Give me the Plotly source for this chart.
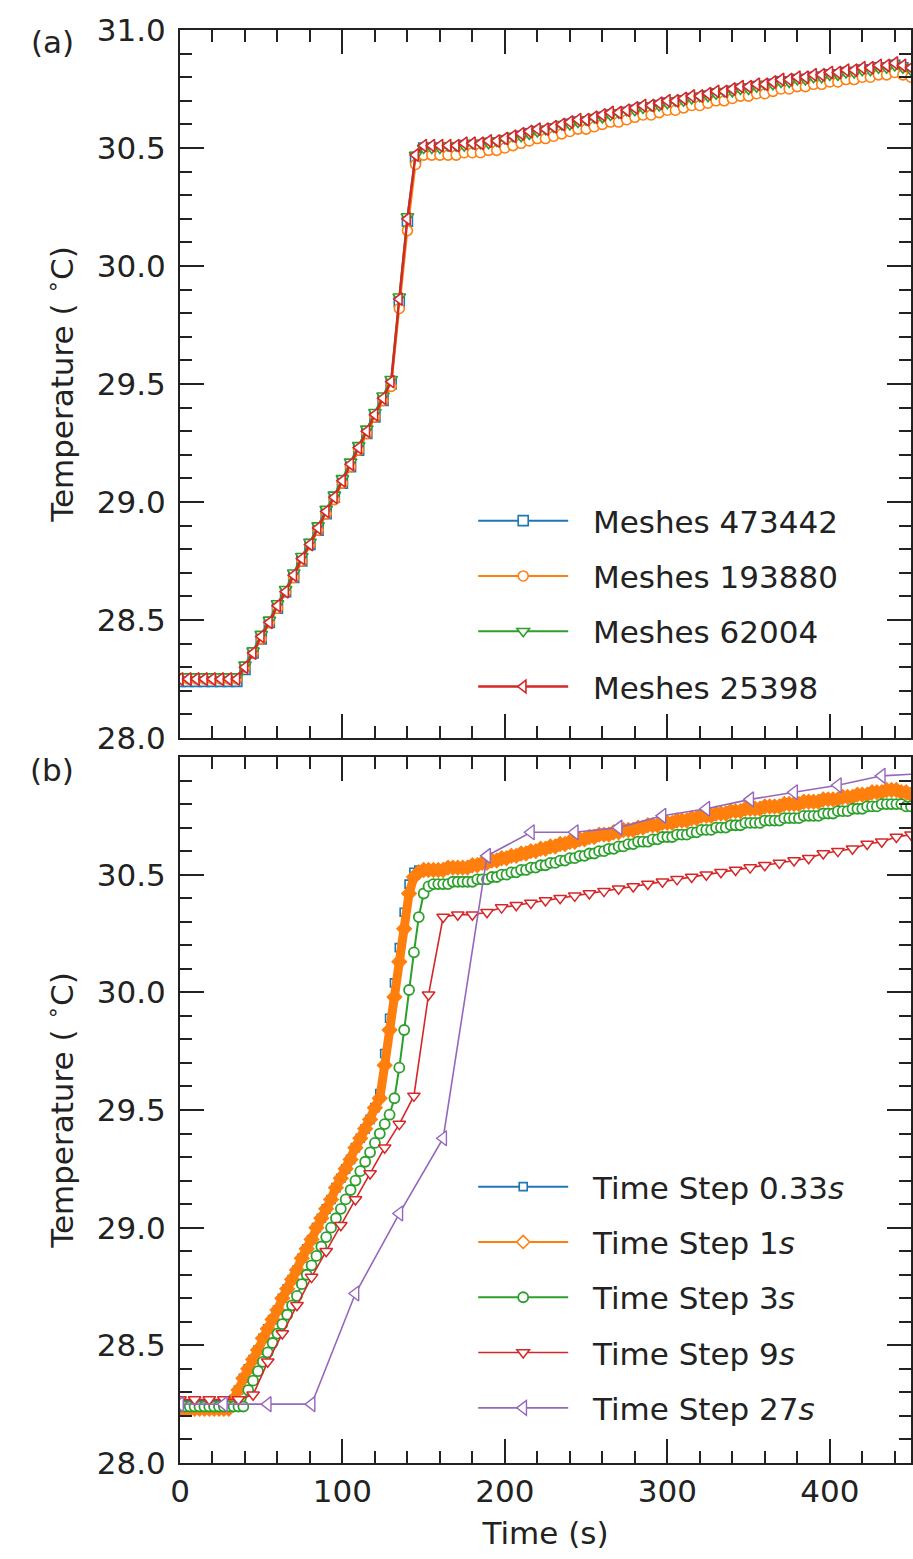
import plotly.graph_objects as go

# ---------------- data ----------------
top_t = list(range(0, 451, 5))
mesh_labels = ["Meshes 473442", "Meshes 193880", "Meshes 62004", "Meshes 25398"]

mesh_473442 = [28.24, 28.24, 28.24, 28.24, 28.24, 28.24, 28.24, 28.24,
    28.29, 28.36, 28.42, 28.49, 28.55, 28.62, 28.68, 28.75, 28.82, 28.88,
    28.95, 29.02, 29.08, 29.15, 29.22, 29.29, 29.36, 29.43, 29.50, 29.85,
    30.19, 30.46, 30.50, 30.50, 30.50, 30.50, 30.50, 30.51, 30.51, 30.51,
    30.52, 30.52, 30.53, 30.54, 30.55, 30.56, 30.57, 30.57, 30.58, 30.59,
    30.60, 30.61, 30.61, 30.62, 30.63, 30.64, 30.64, 30.65, 30.66, 30.67,
    30.67, 30.68, 30.69, 30.69, 30.70, 30.71, 30.71, 30.72, 30.73, 30.73,
    30.74, 30.75, 30.75, 30.76, 30.76, 30.77, 30.78, 30.78, 30.79, 30.79,
    30.80, 30.80, 30.81, 30.81, 30.82, 30.82, 30.83, 30.83, 30.84, 30.84,
    30.85, 30.84, 30.83]
mesh_193880 = [28.25, 28.25, 28.25, 28.25, 28.25, 28.25, 28.25, 28.25,
    28.30, 28.36, 28.42, 28.49, 28.55, 28.62, 28.68, 28.75, 28.82, 28.88,
    28.95, 29.01, 29.08, 29.15, 29.22, 29.29, 29.36, 29.43, 29.49, 29.82,
    30.15, 30.43, 30.47, 30.47, 30.47, 30.47, 30.47, 30.48, 30.48, 30.48,
    30.49, 30.49, 30.50, 30.51, 30.52, 30.53, 30.54, 30.54, 30.55, 30.56,
    30.57, 30.58, 30.58, 30.59, 30.60, 30.61, 30.61, 30.62, 30.63, 30.64,
    30.64, 30.65, 30.66, 30.66, 30.67, 30.68, 30.68, 30.69, 30.70, 30.70,
    30.71, 30.72, 30.72, 30.73, 30.73, 30.74, 30.75, 30.75, 30.76, 30.76,
    30.77, 30.77, 30.78, 30.78, 30.79, 30.79, 30.80, 30.80, 30.81, 30.81,
    30.82, 30.81, 30.80]
mesh_62004 = [28.26, 28.26, 28.26, 28.26, 28.26, 28.26, 28.26, 28.26,
    28.31, 28.37, 28.44, 28.50, 28.57, 28.63, 28.70, 28.77, 28.83, 28.90,
    28.97, 29.03, 29.10, 29.17, 29.24, 29.31, 29.38, 29.45, 29.52, 29.87,
    30.21, 30.47, 30.50, 30.50, 30.50, 30.51, 30.51, 30.51, 30.52, 30.52,
    30.52, 30.53, 30.54, 30.55, 30.55, 30.56, 30.57, 30.58, 30.59, 30.60,
    30.60, 30.61, 30.62, 30.63, 30.63, 30.64, 30.65, 30.66, 30.66, 30.67,
    30.68, 30.68, 30.69, 30.70, 30.70, 30.71, 30.72, 30.72, 30.73, 30.74,
    30.74, 30.75, 30.75, 30.76, 30.77, 30.77, 30.78, 30.78, 30.79, 30.79,
    30.80, 30.80, 30.81, 30.81, 30.82, 30.82, 30.83, 30.83, 30.84, 30.84,
    30.85, 30.84, 30.83]
mesh_25398 = [28.25, 28.25, 28.25, 28.25, 28.25, 28.25, 28.25, 28.25,
    28.30, 28.36, 28.43, 28.49, 28.56, 28.62, 28.69, 28.76, 28.82, 28.89,
    28.96, 29.02, 29.09, 29.16, 29.23, 29.30, 29.37, 29.44, 29.51, 29.86,
    30.20, 30.47, 30.51, 30.51, 30.51, 30.51, 30.51, 30.52, 30.52, 30.52,
    30.53, 30.53, 30.54, 30.55, 30.56, 30.57, 30.58, 30.58, 30.59, 30.60,
    30.61, 30.62, 30.62, 30.63, 30.64, 30.65, 30.65, 30.66, 30.67, 30.68,
    30.68, 30.69, 30.70, 30.70, 30.71, 30.72, 30.72, 30.73, 30.74, 30.74,
    30.75, 30.76, 30.76, 30.77, 30.77, 30.78, 30.79, 30.79, 30.80, 30.80,
    30.81, 30.81, 30.82, 30.82, 30.83, 30.83, 30.84, 30.84, 30.85, 30.85,
    30.86, 30.85, 30.84]

t3 = list(range(0, 451, 3))
t9 = list(range(0, 451, 9))
t27 = list(range(0, 460, 27))
step_labels = ["Time Step 0.33<i>s</i>", "Time Step 1<i>s</i>", "Time Step 3<i>s</i>",
               "Time Step 9<i>s</i>", "Time Step 27<i>s</i>"]

step_033 = [28.25, 28.25, 28.25, 28.25, 28.25, 28.25, 28.25, 28.25, 28.25, 28.25, 28.25,
    28.27, 28.31, 28.36, 28.40, 28.44, 28.48, 28.53, 28.57, 28.61, 28.65,
    28.70, 28.74, 28.78, 28.82, 28.87, 28.91, 28.95, 29.00, 29.04, 29.08,
    29.12, 29.17, 29.21, 29.25, 29.29, 29.34, 29.38, 29.42, 29.46, 29.51,
    29.57,
    29.74, 29.89, 30.04, 30.19, 30.34, 30.46, 30.51, 30.52,
    30.52, 30.52, 30.52, 30.52, 30.52, 30.53, 30.53, 30.53, 30.53, 30.53,
    30.54, 30.54, 30.55, 30.55, 30.56, 30.56, 30.57, 30.57, 30.58, 30.58,
    30.59, 30.59, 30.60, 30.60, 30.61, 30.61, 30.62, 30.62, 30.63, 30.63,
    30.64, 30.64, 30.65, 30.65, 30.66, 30.66, 30.67, 30.67, 30.67, 30.68,
    30.68, 30.69, 30.69, 30.69, 30.70, 30.70, 30.71, 30.71, 30.71, 30.72,
    30.72, 30.72, 30.73, 30.73, 30.73, 30.74, 30.74, 30.75, 30.75, 30.75,
    30.76, 30.76, 30.76, 30.77, 30.77, 30.77, 30.78, 30.78, 30.78, 30.78,
    30.79, 30.79, 30.79, 30.79, 30.80, 30.80, 30.80, 30.80, 30.81, 30.81,
    30.81, 30.81, 30.82, 30.82, 30.82, 30.82, 30.83, 30.83, 30.83, 30.84,
    30.84, 30.84, 30.85, 30.85, 30.85, 30.86, 30.86, 30.86, 30.85, 30.85,
    30.84]
step_1 = [28.23, 28.23, 28.23, 28.23, 28.23, 28.23, 28.23, 28.23, 28.23, 28.23, 28.23,
    28.27, 28.31, 28.36, 28.40, 28.44, 28.48, 28.53, 28.57, 28.61, 28.65,
    28.70, 28.74, 28.78, 28.82, 28.87, 28.91, 28.95, 29.00, 29.04, 29.08,
    29.12, 29.17, 29.21, 29.25, 29.29, 29.34, 29.38, 29.42, 29.46, 29.51,
    29.55,
    29.69, 29.84, 29.98, 30.13, 30.27, 30.42, 30.49, 30.51,
    30.52, 30.52, 30.52, 30.52, 30.52, 30.53, 30.53, 30.53, 30.53, 30.53,
    30.54, 30.54, 30.55, 30.55, 30.56, 30.56, 30.57, 30.57, 30.58, 30.58,
    30.59, 30.59, 30.60, 30.60, 30.61, 30.61, 30.62, 30.62, 30.63, 30.63,
    30.64, 30.64, 30.65, 30.65, 30.66, 30.66, 30.67, 30.67, 30.67, 30.68,
    30.68, 30.69, 30.69, 30.69, 30.70, 30.70, 30.71, 30.71, 30.71, 30.72,
    30.72, 30.72, 30.73, 30.73, 30.73, 30.74, 30.74, 30.75, 30.75, 30.75,
    30.76, 30.76, 30.76, 30.77, 30.77, 30.77, 30.78, 30.78, 30.78, 30.78,
    30.79, 30.79, 30.79, 30.79, 30.80, 30.80, 30.80, 30.80, 30.81, 30.81,
    30.81, 30.81, 30.82, 30.82, 30.82, 30.82, 30.83, 30.83, 30.83, 30.84,
    30.84, 30.84, 30.85, 30.85, 30.85, 30.86, 30.86, 30.86, 30.85, 30.85,
    30.84]
step_3 = [28.24, 28.24, 28.24, 28.24, 28.24, 28.24, 28.24, 28.24, 28.24, 28.24, 28.24, 28.24, 28.24, 28.24,
    28.31, 28.35, 28.39, 28.43, 28.47, 28.51, 28.55, 28.59, 28.63, 28.67,
    28.71, 28.76, 28.80, 28.84, 28.88, 28.92, 28.96, 29.00, 29.04, 29.08,
    29.12, 29.16, 29.20, 29.24, 29.28, 29.32, 29.36, 29.40, 29.44,
    29.48, 29.55, 29.68, 29.84, 30.01, 30.17, 30.32, 30.42,
    30.45, 30.46, 30.46, 30.46, 30.46, 30.47, 30.47, 30.47, 30.47, 30.47, 30.48, 30.48, 30.48, 30.49, 30.49, 30.50,
    30.50, 30.51, 30.51, 30.52, 30.52, 30.53, 30.53, 30.54, 30.54, 30.55, 30.55, 30.56, 30.56, 30.57, 30.57, 30.58, 30.58,
    30.59, 30.59, 30.60, 30.60, 30.61, 30.61, 30.62, 30.62, 30.63, 30.63, 30.64, 30.64, 30.64, 30.65, 30.65, 30.66, 30.66,
    30.66, 30.67, 30.67, 30.67, 30.68, 30.68, 30.69, 30.69, 30.69, 30.70, 30.70, 30.70, 30.71, 30.71, 30.71, 30.72, 30.72,
    30.72, 30.72, 30.73, 30.73, 30.73, 30.73, 30.74, 30.74, 30.74, 30.74,
    30.75, 30.75, 30.75, 30.75, 30.76, 30.76, 30.76, 30.77, 30.77, 30.77,
    30.78, 30.78, 30.78, 30.79, 30.79, 30.79, 30.80, 30.80, 30.80, 30.80,
    30.80, 30.79, 30.79]
step_9 = [28.27, 28.27, 28.27, 28.27, 28.27, 28.29, 28.43, 28.55, 28.67, 28.79,
    28.90, 29.01, 29.12, 29.23, 29.34, 29.44, 29.56, 29.99, 30.32, 30.33,
    30.33, 30.34, 30.36, 30.37, 30.38, 30.39, 30.40, 30.41, 30.42, 30.43,
    30.44, 30.45, 30.46, 30.47, 30.48, 30.49, 30.50, 30.51, 30.52, 30.53,
    30.54, 30.55, 30.56, 30.57, 30.59, 30.60, 30.61, 30.63, 30.64, 30.66,
    30.67]
step_27 = [28.25, 28.25, 28.25, 28.25, 28.72, 29.06, 29.38, 30.58, 30.68, 30.68,
    30.70, 30.75, 30.78, 30.82, 30.85, 30.88, 30.92, 30.93]

y_ticks_top = [28.0, 28.5, 29.0, 29.5, 30.0, 30.5, 31.0]
y_ticks_bot = [28.0, 28.5, 29.0, 29.5, 30.0, 30.5]
x_ticks = [0, 100, 200, 300, 400]

# ---------------- style ----------------
C_BLUE, C_ORANGE, C_GREEN, C_RED, C_PURPLE = "#1f77b4", "#ff7f0e", "#2ca02c", "#d62728", "#9467bd"
FONT = "DejaVu Sans"
FS = 31
GAP = "\u00a0\u00a0"

fig = go.Figure()

def add(x, y, name, color, symbol, size, xa, ya, legend, group, lw=2, mlw=1.6,
        fill="white", showlegend=True):
    n = min(len(x), len(y))
    fig.add_trace(go.Scatter(
        x=x[:n], y=y[:n], name=GAP + name, mode="lines+markers",
        line=dict(color=color, width=lw),
        marker=dict(symbol=symbol, size=size, color=fill,
                    line=dict(color=color, width=mlw)),
        xaxis=xa, yaxis=ya, legend=legend, legendgroup=group,
        showlegend=showlegend))

def legend_only(name, color, symbol, size, xa, ya, legend, group, lw=2, mlw=1.6):
    fig.add_trace(go.Scatter(
        x=[None], y=[None], name=GAP + name, mode="lines+markers",
        line=dict(color=color, width=lw),
        marker=dict(symbol=symbol, size=size, color="white",
                    line=dict(color=color, width=mlw)),
        xaxis=xa, yaxis=ya, legend=legend, legendgroup=group))

add(top_t, mesh_473442, mesh_labels[0], C_BLUE, "square", 10, "x", "y", "legend", "a1")
add(top_t, mesh_193880, mesh_labels[1], C_ORANGE, "circle", 10, "x", "y", "legend", "a2")
add(top_t, mesh_62004, mesh_labels[2], C_GREEN, "triangle-down", 11, "x", "y", "legend", "a3")
add(top_t, mesh_25398, mesh_labels[3], C_RED, "triangle-left", 11, "x", "y", "legend", "a4", lw=2.4)

add(t3, step_033, step_labels[0], C_BLUE, "square", 8, "x2", "y2", "legend2", "b1")
# 1 s series: dense markers render as a solid band; its legend entry is drawn separately
add(t3, step_1, step_labels[1], C_ORANGE, "diamond", 11, "x2", "y2", "legend2", "b2",
    lw=9, mlw=1.5, fill=C_ORANGE, showlegend=False)
legend_only(step_labels[1], C_ORANGE, "diamond", 10, "x2", "y2", "legend2", "b2")
add(t3, step_3, step_labels[2], C_GREEN, "circle", 10, "x2", "y2", "legend2", "b3", mlw=1.8)
add(t9, step_9, step_labels[3], C_RED, "triangle-down", 11, "x2", "y2", "legend2", "b4", lw=1.6, mlw=1.5)
add(t27, step_27, step_labels[4], C_PURPLE, "triangle-left", 13, "x2", "y2", "legend2", "b5", lw=1.6, mlw=1.4)

H = 1559
top_px, bot_px = 30, 1463
ph = bot_px - top_px

def fy(px):
    return (bot_px - px) / ph

axis_common = dict(
    showline=True, linecolor="#222", linewidth=2, mirror="allticks",
    ticks="inside", ticklen=24, tickwidth=2, tickcolor="#222",
    showgrid=False, zeroline=False,
    tickfont=dict(family=FONT, size=FS, color="#222"),
)
minor_x = dict(ticks="inside", ticklen=12, tickwidth=2, tickcolor="#222", dtick=20, tick0=0)
minor_y = dict(ticks="inside", ticklen=12, tickwidth=2, tickcolor="#222", dtick=0.1, tick0=28)
ytitle = dict(text="Temperature ( <sup>∘</sup>C)", font=dict(family=FONT, size=FS), standoff=14)
leg_common = dict(x=(474 - 180) / 733, xanchor="left", yanchor="top",
                  bgcolor="rgba(255,255,255,0.85)", borderwidth=0,
                  font=dict(family=FONT, size=FS, color="#222"),
                  itemwidth=90, tracegroupgap=12, traceorder="grouped")

fig.update_layout(
    width=913, height=H,
    margin=dict(l=180, r=0, t=top_px, b=H - bot_px),
    plot_bgcolor="white", paper_bgcolor="white",
    font=dict(family=FONT, size=FS, color="#222"),
    xaxis=dict(axis_common, domain=[0, 1], anchor="y", range=[0, 450],
               tickvals=x_ticks, showticklabels=False, minor=minor_x),
    yaxis=dict(axis_common, domain=[fy(738), 1], anchor="x", range=[28, 31],
               tickvals=y_ticks_top, tickformat=".1f", ticklabelstandoff=6,
               title=ytitle, minor=minor_y),
    xaxis2=dict(axis_common, domain=[0, 1], anchor="y2", range=[0, 450],
                tickvals=x_ticks, ticklabelstandoff=0,
                title=dict(text="Time (s)", font=dict(family=FONT, size=FS), standoff=14),
                minor=minor_x),
    yaxis2=dict(axis_common, domain=[0, fy(757)], anchor="x2", range=[28, 31],
                tickvals=y_ticks_bot, tickformat=".1f", ticklabelstandoff=6,
                title=ytitle, minor=minor_y),
    legend=dict(leg_common, y=fy(494)),
    legend2=dict(leg_common, y=fy(1160)),
    annotations=[
        dict(text="(a)", xref="paper", yref="paper", x=-(180 - 52) / 733, y=fy(42),
             xanchor="center", yanchor="middle", showarrow=False, font=dict(family=FONT, size=FS)),
        dict(text="(b)", xref="paper", yref="paper", x=-(180 - 52) / 733, y=fy(770),
             xanchor="center", yanchor="middle", showarrow=False, font=dict(family=FONT, size=FS)),
    ],
)

fig.write_html("out.html")
